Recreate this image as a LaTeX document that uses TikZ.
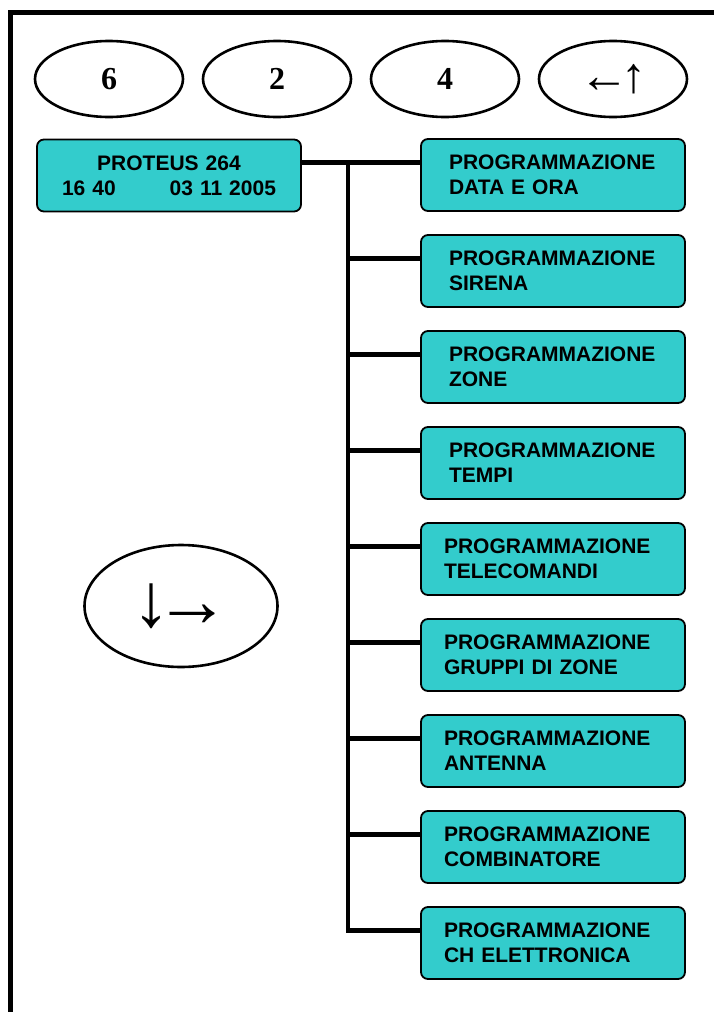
\documentclass[tikz,border=0pt]{standalone}
\usepackage{fontspec}
\setmainfont{Liberation Sans}
\newfontfamily\keyfont{Liberation Serif}
\usetikzlibrary{shapes.geometric,positioning}
\definecolor{tq}{RGB}{51,204,204}

\tikzset{
  key/.style={ellipse, draw, line width=2.6pt, minimum width=148pt,
    minimum height=76pt, inner sep=0pt,
    font=\keyfont\bfseries\fontsize{32}{32}\selectfont},
  menu/.style={draw, line width=1.8pt, rounded corners=7pt, fill=tq,
    minimum width=264pt, minimum height=72pt, inner xsep=28pt,
    text width=208pt, align=left,
    font=\bfseries\fontsize{21}{25}\selectfont},
  menuw/.style={menu, inner xsep=23pt, text width=218pt},
  bus/.style={line width=4.6pt}
}

\begin{document}
\begin{tikzpicture}[x=1pt,y=-1pt,node distance=96pt]
      \useasboundingbox (0,0) rectangle (714,1012);
      \draw[line width=4.6pt] (10.5,1012) -- (10.5,12.5) -- (714,12.5);

      % keys
      \node[key] (k1) at (109,79) {6};
      \node[key,right of=k1,node distance=168pt] (k2) {2};
      \node[key,right of=k2,node distance=168pt] (k3) {4};
      \node[key,right of=k3,node distance=168pt,
        font=\keyfont\fontsize{50}{50}\selectfont] (k4) {←\kern-8pt↑};
      \node[key,minimum width=193pt,minimum height=122pt,
        font=\keyfont\bfseries\fontsize{76}{76}\selectfont] (m) at (181,606) {↓\kern-16pt→};

      % display and menu
      \node[menu,align=center,inner xsep=22pt,text width=220pt] (0) at (169,175.5)
        {PROTEUS 264\\16 40\hspace{54pt}03 11 2005};
      \node[menu] (1) at (553,175) {PROGRAMMAZIONE\\DATA E ORA};
      \node[menu,below of=1] (2) {PROGRAMMAZIONE\\SIRENA};
      \node[menu,below of=2] (3) {PROGRAMMAZIONE\\ZONE};
      \node[menu,below of=3] (4) {PROGRAMMAZIONE\\TEMPI};
      \node[menuw,below of=4] (5) {PROGRAMMAZIONE\\TELECOMANDI};
      \node[menuw,below of=5] (6) {PROGRAMMAZIONE\\GRUPPI DI ZONE};
      \node[menuw,below of=6] (7) {PROGRAMMAZIONE\\ANTENNA};
      \node[menuw,below of=7] (8) {PROGRAMMAZIONE\\COMBINATORE};
      \node[menuw,below of=8] (9) {PROGRAMMAZIONE\\CH ELETTRONICA};

      \foreach \i in {1,...,9}
        \coordinate (j\i) at ([shift={(-72pt,-24.5pt)}]\i.north west);

      \draw[bus] (0.east |- j1) -- (j1) -- (j9) -- (9.west |- j9);
      \foreach \i in {1,...,8}
        \draw[bus] (j\i) -- (\i.west |- j\i);
    \end{tikzpicture}
\end{document}
